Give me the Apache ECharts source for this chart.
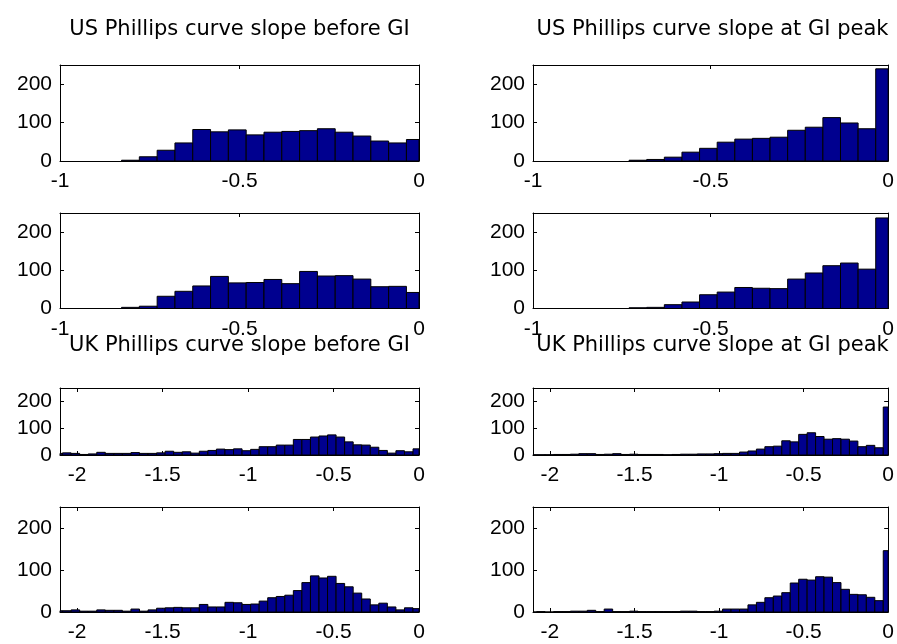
<!DOCTYPE html>
<html>
<head>
<meta charset="utf-8">
<script src="https://cdn.jsdelivr.net/npm/echarts@6/dist/echarts.min.js"></script>
<style>
  html, body { margin: 0; padding: 0; background: #fff; }
  #chart { width: 897px; height: 644px; }
</style>
</head>
<body>
<div id="chart"></div>
<script>
// tick labels
const yTicks = [0, 100, 200];
const usXTicks = [-1, -0.5, 0];
const ukXTicks = [-2, -1.5, -1, -0.5, 0];

// titles
const titles = [
  "US Phillips curve slope before GI",
  "US Phillips curve slope at GI peak",
  "UK Phillips curve slope before GI",
  "UK Phillips curve slope at GI peak",
];

// histogram bins (first edge + width)
const usBinWidth = 0.0496;
const usBeforeStart = -0.8286;
const usPeakStart = -0.7294;
const ukBinWidth = 0.05;
const ukBeforeStart = -2.135;
const ukPeakStart = -2.129;

// counts per bin
const usBeforeRow1 = [2, 11, 28, 47, 82, 76, 81, 68, 75, 77, 79, 84, 75, 65, 52, 47, 56];
const usPeakRow1 = [2, 4, 10, 23, 33, 49, 57, 59, 62, 80, 88, 113, 99, 84, 240];
const usBeforeRow2 = [3, 6, 32, 45, 59, 84, 67, 68, 76, 65, 97, 85, 86, 77, 57, 58, 42];
const usPeakRow2 = [2, 3, 10, 17, 36, 43, 55, 53, 52, 77, 93, 112, 119, 103, 237];
const ukBeforeRow3 = [6, 8, 6, 2, 4, 10, 6, 6, 6, 9, 6, 6, 8, 14, 10, 12, 7, 14, 17, 22, 20, 23,
  16, 21, 31, 31, 37, 37, 58, 58, 67, 71, 75, 67, 49, 38, 37, 29, 17, 7, 16, 12, 23];
const ukPeakRow3 = [1, 1, 1, 2, 2, 3, 5, 5, 2, 3, 5, 2, 3, 2, 2, 2, 1, 2, 3, 3, 4,
  4, 5, 6, 6, 11, 15, 22, 31, 33, 53, 49, 77, 83, 69, 59, 61, 59, 52, 31, 36, 27, 179];
const ukBeforeRow4 = [3, 3, 5, 2, 2, 5, 4, 4, 2, 7, 2, 5, 9, 10, 11, 10, 10, 18, 12, 12, 23, 22,
  18, 19, 26, 34, 37, 40, 51, 70, 86, 81, 85, 68, 60, 45, 31, 17, 21, 12, 5, 10, 8];
const ukPeakRow4 = [0, 1, 0, 1, 1, 2, 2, 4, 1, 7, 1, 1, 2, 1, 1, 1, 1, 1, 2, 2, 1,
  1, 2, 7, 7, 7, 17, 23, 34, 38, 46, 69, 78, 76, 84, 83, 70, 54, 42, 41, 35, 27, 146];

const TITLE_FONT = "DejaVu Sans";
const TICK_FONT = "Liberation Sans";
const barColor = "#00008f";

// 面板布局
const colLeft = [60, 533];
const colWidth = 359;
const rows = [
  { top: 65, height: 96 },
  { top: 213, height: 95.5 },
  { top: 388, height: 67 },
  { top: 507, height: 105 },
];

const panels = [
  { counts: usBeforeRow1, start: usBeforeStart, bw: usBinWidth, xmin: -1, ticks: usXTicks, row: 0, col: 0 },
  { counts: usPeakRow1, start: usPeakStart, bw: usBinWidth, xmin: -1, ticks: usXTicks, row: 0, col: 1 },
  { counts: usBeforeRow2, start: usBeforeStart, bw: usBinWidth, xmin: -1, ticks: usXTicks, row: 1, col: 0 },
  { counts: usPeakRow2, start: usPeakStart, bw: usBinWidth, xmin: -1, ticks: usXTicks, row: 1, col: 1 },
  { counts: ukBeforeRow3, start: ukBeforeStart, bw: ukBinWidth, xmin: -2.1, ticks: ukXTicks, row: 2, col: 0 },
  { counts: ukPeakRow3, start: ukPeakStart, bw: ukBinWidth, xmin: -2.1, ticks: ukXTicks, row: 2, col: 1 },
  { counts: ukBeforeRow4, start: ukBeforeStart, bw: ukBinWidth, xmin: -2.1, ticks: ukXTicks, row: 3, col: 0 },
  { counts: ukPeakRow4, start: ukPeakStart, bw: ukBinWidth, xmin: -2.1, ticks: ukXTicks, row: 3, col: 1 },
];

function renderBin(params, api) {
  const p0 = api.coord([api.value(0), api.value(2)]);
  const p1 = api.coord([api.value(1), 0]);
  const cs = params.coordSys;
  const shape = echarts.graphic.clipRectByRect(
    { x: p0[0], y: p0[1], width: p1[0] - p0[0], height: p1[1] - p0[1] },
    { x: cs.x, y: cs.y, width: cs.width, height: cs.height }
  );
  return shape && {
    type: "rect",
    shape: shape,
    style: { fill: barColor, stroke: "#000", lineWidth: 1 },
  };
}

const lineStyle = { color: "#000", width: 1 };
const grid = [], xAxis = [], yAxis = [], series = [];

panels.forEach((p, i) => {
  const r = rows[p.row];
  grid.push({ left: colLeft[p.col], top: r.top, width: colWidth, height: r.height });

  const xBase = {
    type: "value", gridIndex: i, min: p.xmin, max: 0,
    axisLine: { show: true, onZero: false, lineStyle },
    axisTick: { show: true, inside: true, length: 4, customValues: p.ticks, lineStyle },
    splitLine: { show: false },
  };
  xAxis.push(Object.assign({}, xBase, {
    position: "bottom",
    axisLabel: { customValues: p.ticks, margin: 10, color: "#000", fontFamily: TICK_FONT, fontSize: 21 },
  }));
  xAxis.push(Object.assign({}, xBase, { position: "top", axisLabel: { show: false } }));

  const yBase = {
    type: "value", gridIndex: i, min: 0, max: 250,
    axisLine: { show: true, onZero: false, lineStyle },
    axisTick: { show: true, inside: true, length: 4, customValues: yTicks, lineStyle },
    splitLine: { show: false },
  };
  yAxis.push(Object.assign({}, yBase, {
    position: "left",
    axisLabel: { customValues: yTicks, margin: 8, color: "#000", fontFamily: TICK_FONT, fontSize: 21 },
  }));
  yAxis.push(Object.assign({}, yBase, { position: "right", axisLabel: { show: false } }));

  const data = p.counts.map((c, k) => [p.start + k * p.bw, p.start + (k + 1) * p.bw, c]);
  series.push({
    type: "custom",
    xAxisIndex: 2 * i,
    yAxisIndex: 2 * i,
    renderItem: renderBin,
    encode: { x: [0, 1], y: 2 },
    silent: true,
    data: data,
  });
});

const titleTops = [19, 19, 335, 335];
const title = titles.map((t, i) => ({
  text: t,
  left: colLeft[i % 2] + colWidth / 2,
  top: titleTops[i],
  textAlign: "center",
  padding: 0,
  textStyle: { color: "#000", fontFamily: TITLE_FONT, fontSize: 21, fontWeight: "normal" },
}));

const myChart = echarts.init(document.getElementById("chart"));
myChart.setOption({
  backgroundColor: "#fff",
  animation: false,
  title: title,
  grid: grid,
  xAxis: xAxis,
  yAxis: yAxis,
  series: series,
});
</script>
</body>
</html>
